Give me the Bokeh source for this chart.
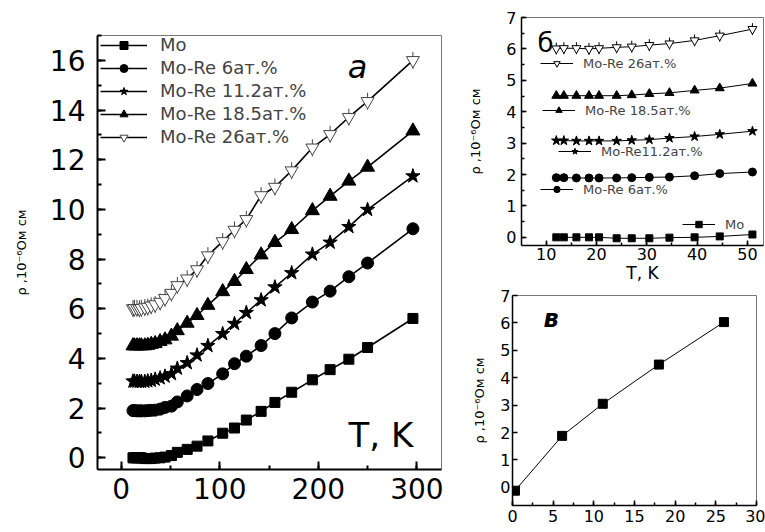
import math
from bokeh.plotting import figure
from bokeh.models import Legend, LegendItem, Label, SingleIntervalTicker, Range1d
from bokeh.layouts import row, column
from bokeh.embed import file_html
from bokeh.resources import INLINE

FONT = "DejaVu Sans"
YLABEL = "ρ ,10⁻⁶Ом см"

# ---------------- data ----------------
T_low = [12, 13.5, 16, 18.5, 20.5, 24, 27, 30.5, 34.5, 39.5, 44.5, 51]
T_high = [57, 67, 77, 88, 103, 115, 127, 142, 156, 173, 194, 212, 231, 250, 296]

labels_main = ["Mo", "Mo-Re 6ат.%", "Mo-Re 11.2ат.%", "Mo-Re 18.5ат.%", "Mo-Re 26ат.%"]
labels_low = ["Mo", "Mo-Re 6ат.%", "Mo-Re11.2ат.%", "Mo-Re 18.5ат.%", "Mo-Re 26ат.%"]

mo_low = [0.0, 0.0, 0.0, 0.0, 0.0, -0.03, -0.03, -0.03, -0.01, 0.0, 0.03, 0.09]
mo_high = [0.22, 0.34, 0.47, 0.68, 0.99, 1.2, 1.52, 1.87, 2.23, 2.64, 3.14, 3.55, 3.97, 4.44, 5.61]

re6_low = [1.9, 1.9, 1.89, 1.89, 1.89, 1.89, 1.9, 1.91, 1.92, 1.96, 2.03, 2.08]
re6_high = [2.25, 2.49, 2.75, 2.99, 3.38, 3.79, 4.09, 4.52, 5.0, 5.63, 6.27, 6.71, 7.29, 7.84, 9.22]

re11_low = [3.08, 3.08, 3.07, 3.07, 3.07, 3.07, 3.09, 3.11, 3.16, 3.21, 3.28, 3.38]
re11_high = [3.6, 3.82, 4.13, 4.51, 4.99, 5.4, 5.84, 6.35, 6.87, 7.44, 8.19, 8.67, 9.3, 9.99, 11.34]

re18_low = [4.51, 4.51, 4.51, 4.51, 4.51, 4.51, 4.53, 4.57, 4.6, 4.68, 4.75, 4.9]
re18_high = [5.12, 5.42, 5.73, 6.14, 6.69, 7.1, 7.58, 8.17, 8.67, 9.19, 9.95, 10.53, 11.14, 11.7, 13.16]

re26_low = [6.01, 6.02, 6.02, 6.0, 6.02, 6.05, 6.07, 6.12, 6.17, 6.27, 6.42, 6.63]
re26_high = [6.94, 7.21, 7.58, 8.14, 8.71, 9.17, 9.6, 10.56, 10.9, 11.56, 12.48, 13.02, 13.71, 14.35, 16.0]

# residual resistivity vs Re content (panel в)
re_content = [0.3, 6.1, 11.1, 18.0, 26.0]
rho_residual = [-0.12, 1.88, 3.05, 4.48, 6.03]

lows = [mo_low, re6_low, re11_low, re18_low, re26_low]
highs = [mo_high, re6_high, re11_high, re18_high, re26_high]
markers = ["square", "circle", "star", "triangle", "inverted_triangle"]
fills = ["black", "black", "black", "black", "white"]
sizes_main = [10, 12, 15, 14, 13]
sizes_small = [7, 8, 10, 9, 9]


def base_fig(width, height, xr, yr, bl, br, bt, bb):
    p = figure(width=width, height=height, x_range=Range1d(*xr), y_range=Range1d(*yr),
               output_backend="svg", toolbar_location=None, tools="",
               min_border_left=bl, min_border_right=br, min_border_top=bt, min_border_bottom=bb)
    p.grid.visible = False
    p.outline_line_color = "#777777"
    p.outline_line_width = 1
    for ax in (p.xaxis[0], p.yaxis[0]):
        ax.axis_line_color = "black"
        ax.major_tick_line_color = "black"
        ax.minor_tick_line_color = "black"
        ax.major_tick_out = 0
        ax.minor_tick_out = 0
        ax.major_label_text_font = FONT
        ax.major_label_text_color = "black"
        ax.axis_label_text_font = FONT
        ax.axis_label_text_font_style = "normal"
        ax.axis_label_text_color = "black"
    return p


# ---------------- main panel (a) ----------------
pm = base_fig(460, 532, (-24, 325), (-0.47, 17.0), 97, 19, 35, 63)
pm.xaxis.ticker = SingleIntervalTicker(interval=100, num_minor_ticks=2)
pm.yaxis.ticker = SingleIntervalTicker(interval=2, num_minor_ticks=2)
for ax in (pm.xaxis[0], pm.yaxis[0]):
    ax.axis_line_width = 2
    ax.major_tick_line_width = 2
    ax.minor_tick_line_width = 2
    ax.major_tick_in = 8
    ax.minor_tick_in = 4
    ax.major_label_text_font_size = "28px"
pm.xaxis.major_label_standoff = 8
pm.yaxis.major_label_standoff = 12
pm.yaxis.axis_label = YLABEL
pm.yaxis.axis_label_text_font_size = "13px"
pm.yaxis.axis_label_standoff = 18

items = []
for lab, lo, hi, mk, fc, sz in zip(labels_main, lows, highs, markers, fills, sizes_main):
    T = T_low + T_high
    v = lo + hi
    rs = [pm.line(T, v, line_color="black", line_width=1.6)]
    if fc == "white":
        rs.append(pm.scatter(T, v, marker="dash", angle=math.pi / 2, size=sz + 4,
                             line_color="#444444", line_width=1))
    rs.append(pm.scatter(T, v, marker=mk, size=sz, fill_color=fc,
                         line_color="black" if fc == "black" else "#444444", line_width=1))
    items.append(LegendItem(label=lab, renderers=rs))

leg = Legend(items=items, location=(3, 322), glyph_width=47, glyph_height=20, label_height=20,
             spacing=2, padding=0, margin=0, label_standoff=13, label_text_font=FONT,
             label_text_font_size="18px", border_line_color=None, background_fill_alpha=0)
pm.add_layout(leg)

pm.add_layout(Label(x=260, y=403, x_units="screen", y_units="screen", text="a", text_font=FONT,
                    text_font_style="italic", text_font_size="32px", text_align="center",
                    text_baseline="alphabetic", text_color="black"))
pm.add_layout(Label(x=251, y=35, x_units="screen", y_units="screen", text="T, K", text_font=FONT,
                    text_font_size="34px", text_align="left", text_baseline="alphabetic",
                    text_color="black"))

# ---------------- panel б (low T) ----------------
pb = base_fig(305, 285, (5.08, 53.2), (-0.26, 7.0), 61, 2, 17, 40)
pb.xaxis.ticker = SingleIntervalTicker(interval=10, num_minor_ticks=2)
pb.yaxis.ticker = SingleIntervalTicker(interval=1, num_minor_ticks=2)
for ax in (pb.xaxis[0], pb.yaxis[0]):
    ax.axis_line_width = 1.5
    ax.major_tick_line_width = 1.5
    ax.minor_tick_line_width = 1.5
    ax.major_tick_in = 5
    ax.minor_tick_in = 3
    ax.major_label_text_font_size = "16px"
pb.xaxis.major_label_standoff = 2
pb.yaxis.major_label_standoff = 5
pb.xaxis.axis_label = "T, K"
pb.xaxis.axis_label_text_font_size = "17px"
pb.xaxis.axis_label_standoff = 0
pb.yaxis.axis_label = YLABEL
pb.yaxis.axis_label_text_font_size = "13px"
pb.yaxis.axis_label_standoff = 20

leg_pos = [(161, 13), (19, 48), (37, 86), (21, 127), (19, 174)]
for lab, lo, mk, fc, sz, pos in zip(labels_low, lows, markers, fills, sizes_small, leg_pos):
    rs = [pb.line(T_low, lo, line_color="black", line_width=1)]
    if fc == "white":
        rs.append(pb.scatter(T_low, lo, marker="dash", angle=math.pi / 2, size=sz + 3,
                             line_color="black", line_width=1))
    rs.append(pb.scatter(T_low, lo, marker=mk, size=sz, fill_color=fc, line_color="black", line_width=1))
    lg = Legend(items=[LegendItem(label=lab, renderers=rs)], location=pos, glyph_width=33,
                glyph_height=16, label_height=16, padding=0, margin=0, label_standoff=10,
                label_text_font=FONT, label_text_font_size="13px", border_line_color=None,
                background_fill_alpha=0)
    pb.add_layout(lg)

pb.add_layout(Label(x=16, y=203, x_units="screen", y_units="screen", text="б", text_font=FONT,
                    text_font_size="26px", text_align="left", text_baseline="alphabetic",
                    text_color="black"))

# ---------------- panel в ----------------
pv = base_fig(305, 247, (0, 30), (-0.66, 7.0), 52, 9, 10, 27)
pv.xaxis.ticker = SingleIntervalTicker(interval=5, num_minor_ticks=2)
pv.yaxis.ticker = SingleIntervalTicker(interval=1, num_minor_ticks=0)
for ax in (pv.xaxis[0], pv.yaxis[0]):
    ax.axis_line_width = 1.5
    ax.major_tick_line_width = 1.5
    ax.minor_tick_line_width = 1.5
    ax.major_tick_in = 5
    ax.minor_tick_in = 3
    ax.major_label_text_font_size = "16px"
pv.xaxis.major_label_standoff = 4
pv.yaxis.major_label_standoff = 2
pv.yaxis.axis_label = YLABEL
pv.yaxis.axis_label_text_font_size = "13px"
pv.yaxis.axis_label_standoff = 10

pv.line(re_content, rho_residual, line_color="black", line_width=1)
pv.scatter(re_content, rho_residual, marker="square", size=9, fill_color="black", line_color="black")
pv.add_layout(Label(x=31, y=187, x_units="screen", y_units="screen", text="в", text_font=FONT,
                    text_font_style="bold italic", text_font_size="24px", text_align="left",
                    text_baseline="alphabetic", text_color="black"))

layout = row(pm, column(row(pb), row(pv)))
open("out.html", "w").write(file_html(layout, INLINE))
